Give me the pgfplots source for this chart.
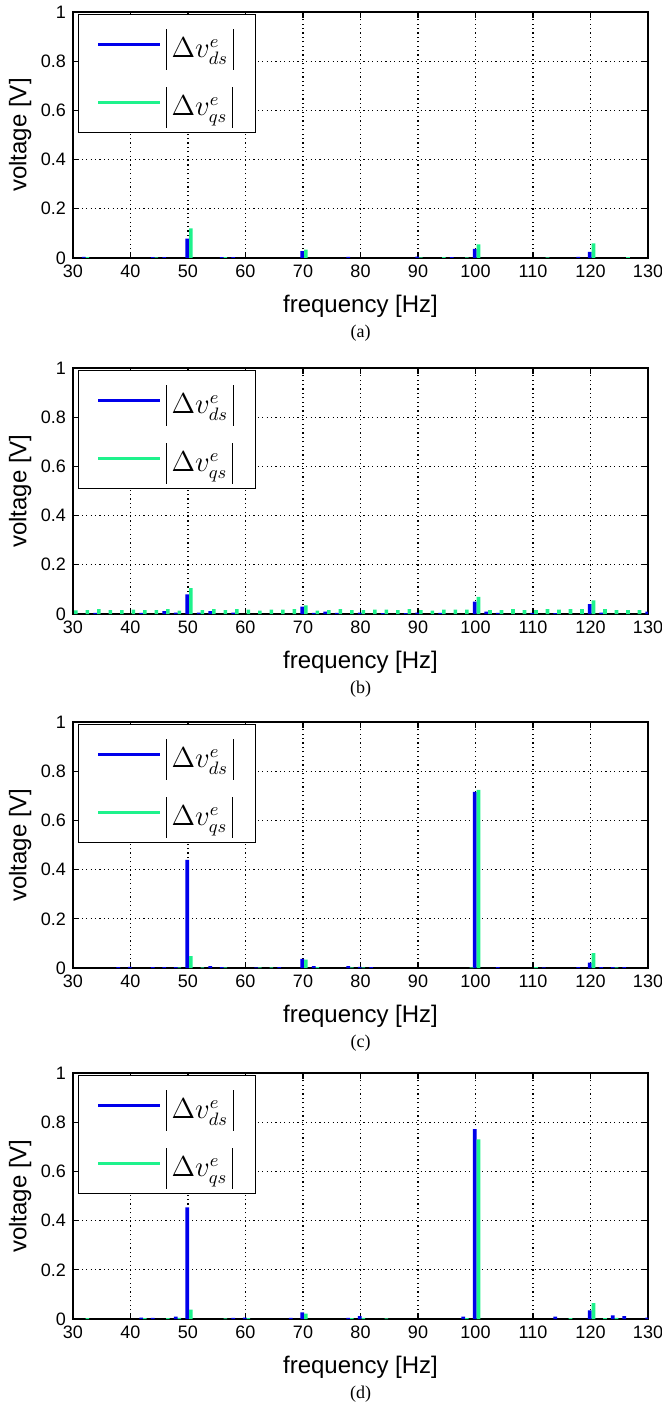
\documentclass[border=0pt]{standalone}
\usepackage{fontspec}
\setmainfont{Liberation Sans}
\newfontfamily\capfont{Liberation Serif}
\usepackage{pgfplots}
\pgfplotsset{compat=1.18}

\definecolor{cblue}{RGB}{0,0,235}
\definecolor{cgreen}{RGB}{30,242,140}

% tall absolute-value bars for the legend
\newcommand{\absbar}{\rule[-6pt]{0.6pt}{20.5pt}}
\newcommand{\absv}[1]{\absbar\,$#1$\,\absbar}

\pgfplotsset{
  panel/.style={
    scale only axis,
    width=287.5pt, height=123pt,
    anchor=south west,
    xmin=30, xmax=130, ymin=0, ymax=1,
    xtick={30,40,...,130},
    ytick={0,0.2,0.4,0.6,0.8,1},
    tick align=inside,
    major tick length=3pt,
    tick style={black, line width=0.6pt},
    axis line style={black, line width=0.7pt},
    grid=major,
    grid style={black, line width=0.6pt, dash pattern=on 0.6pt off 1.6pt},
    ticklabel style={font=\fontsize{9}{10}\selectfont},
    /pgf/number format/assume math mode=true,
    xlabel={frequency [Hz]},
    ylabel={voltage [V]},
    label style={font=\fontsize{12}{14}\selectfont},
    xlabel style={at={(axis description cs:0.5,-0.195)}, anchor=center},
    ylabel style={at={(axis description cs:-0.092,0.5)}, anchor=center},
    legend style={at={(rel axis cs:0,1)}, anchor=north west,
      xshift=2.5pt, yshift=-1pt, draw=black, line width=0.6pt,
      fill=white, inner xsep=9pt, inner ysep=3.5pt, row sep=6pt,
      font=\fontsize{13.5}{15}\selectfont,
      nodes={inner xsep=2pt, inner ysep=3.5pt}},
    legend cell align=left,
    legend image code/.code={\draw[#1] (0pt,0pt) -- (31pt,0pt);},
  },
  dbar/.style={ybar, bar width=0.65, bar shift=-0.15, fill=cblue, draw=none, forget plot},
  qbar/.style={ybar, bar width=0.65, bar shift=0.5, fill=cgreen, draw=none, forget plot},
}

\newcommand{\legs}{%
  \addlegendimage{cblue, line width=1.7pt}
  \addlegendentry{\absv{\Delta v^{e}_{ds}}}
  \addlegendimage{cgreen, line width=1.7pt}
  \addlegendentry{\absv{\Delta v^{e}_{qs}}}
}

\begin{document}
\begin{tikzpicture}

% (a)
\begin{axis}[panel, name=a, at={(36.5pt,-129pt)}]
\legs
\addplot[dbar] coordinates {(32,0.005)(44,0.004)(46,0.004)(50,0.079)(56,0.004)(58,0.004)
  (70,0.028)(78,0.005)(90,0.006)(96,0.004)(100,0.037)(118,0.005)(120,0.025)};
\addplot[qbar] coordinates {(32,0.004)(44,0.003)(50,0.12)(56,0.004)(70,0.034)(90,0.003)
  (94,0.004)(98,0.003)(100,0.055)(112,0.003)(120,0.059)(126,0.004)};
\end{axis}
\node[font=\capfont\fontsize{9}{10}\selectfont] at ([yshift=-37.5pt]a.south) {(a)};

% (b)
\begin{axis}[panel, name=b, at={(36.5pt,-307pt)}]
\legs
\addplot[dbar] coordinates {(34,0.005)(42,0.005)(46,0.012)(48,0.006)(50,0.08)(52,0.006)
  (54,0.012)(58,0.006)(70,0.03)(72,0.005)(74,0.01)(76,0.005)(80,0.006)(84,0.004)(88,0.004)
  (90,0.006)(94,0.005)(100,0.05)(102,0.01)(104,0.005)(110,0.005)(114,0.004)(120,0.04)
  (122,0.006)(130,0.01)};
\addplot[qbar] coordinates {(30,0.015)(32,0.016)(34,0.02)(36,0.016)(38,0.016)(40,0.018)
  (42,0.016)(44,0.016)(46,0.02)(48,0.014)(50,0.105)(52,0.016)(54,0.02)(56,0.016)(58,0.02)
  (60,0.018)(62,0.014)(64,0.018)(66,0.018)(68,0.02)(70,0.035)(72,0.014)(74,0.016)(76,0.02)
  (78,0.016)(80,0.016)(82,0.018)(84,0.018)(86,0.016)(88,0.02)(90,0.016)(92,0.014)(94,0.018)
  (96,0.018)(98,0.018)(100,0.07)(102,0.016)(104,0.016)(106,0.02)(108,0.016)(110,0.016)
  (112,0.02)(114,0.018)(116,0.02)(118,0.02)(120,0.055)(122,0.02)(124,0.016)(126,0.016)
  (128,0.016)};
\end{axis}
\node[font=\capfont\fontsize{9}{10}\selectfont] at ([yshift=-37.5pt]b.south) {(b)};

% (c)
\begin{axis}[panel, name=c, at={(36.5pt,-484pt)}]
\legs
\addplot[dbar] coordinates {(38,0.004)(40,0.005)(44,0.004)(46,0.004)(48,0.004)(50,0.44)
  (54,0.008)(56,0.004)(62,0.003)(66,0.004)(70,0.037)(72,0.008)(78,0.008)(80,0.005)(82,0.004)
  (100,0.716)(104,0.004)(112,0.003)(118,0.004)(120,0.022)(122,0.004)(124,0.004)(126,0.004)};
\addplot[qbar] coordinates {(48,0.003)(50,0.048)(52,0.003)(56,0.003)(62,0.003)(64,0.003)
  (70,0.034)(72,0.004)(78,0.003)(80,0.003)(98.8,0.003)(100,0.724)(110,0.004)(120,0.06)
  (124,0.003)};
\end{axis}
\node[font=\capfont\fontsize{9}{10}\selectfont] at ([yshift=-37.5pt]c.south) {(c)};

% (d)
\begin{axis}[panel, name=d, at={(36.5pt,-659.5pt)}]
\legs
\addplot[dbar] coordinates {(42,0.006)(44,0.005)(48,0.01)(50,0.454)(58,0.005)(60,0.006)
  (68,0.005)(70,0.027)(78,0.005)(80,0.012)(98,0.01)(100,0.772)(114,0.01)(120,0.035)
  (124,0.015)(126,0.012)(130,0.006)};
\addplot[qbar] coordinates {(32,0.004)(42,0.004)(46,0.004)(48,0.005)(50,0.038)(56,0.003)
  (60,0.004)(70,0.022)(78,0.004)(80,0.005)(84,0.003)(98,0.004)(100,0.73)(116,0.004)
  (120,0.065)(122,0.004)(124,0.005)};
\end{axis}
\node[font=\capfont\fontsize{9}{10}\selectfont] at ([yshift=-37.5pt]d.south) {(d)};

\pgfresetboundingbox
\useasboundingbox (0pt,0pt) rectangle (330.5pt,-703pt);
\end{tikzpicture}
\end{document}
